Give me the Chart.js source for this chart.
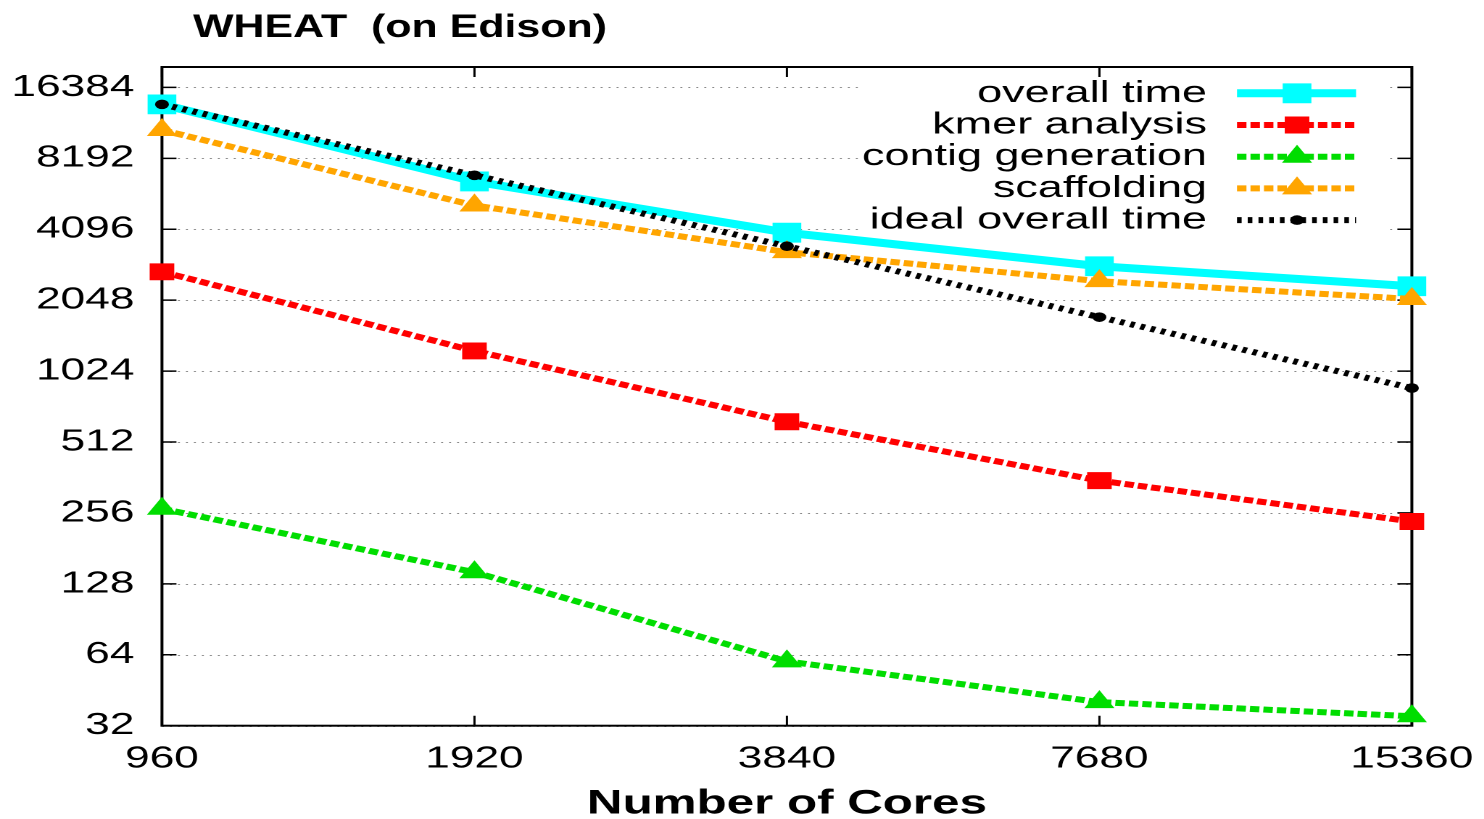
<!DOCTYPE html>
<html>
<head>
<meta charset="utf-8">
<script src="https://cdn.jsdelivr.net/npm/chart.js@4.4.1/dist/chart.umd.min.js"></script>
<style>
  html, body { margin: 0; padding: 0; background: #ffffff; overflow: hidden; }
  /* the drawing is laid out narrow and widened, giving the wide lettering of the figure */
  #frame { position: absolute; left: 0; top: 0; width: 1023.45px; height: 819px;
           transform: scaleX(1.45); transform-origin: 0 0; }
</style>
</head>
<body>
<div id="frame"><canvas id="chart"></canvas></div>
<script>
// Number of cores (x axis categories)
const cores = ['960', '1920', '3840', '7680', '15360'];

// Run time per stage, seconds
const overallTime      = [13880, 6535, 3960, 2853, 2346];
const kmerAnalysis     = [2702, 1247, 624, 351, 235.5];
const contigGeneration = [266.7, 143.4, 60, 40.3, 35.1];
const scaffolding      = [10800, 5167, 3275, 2466, 2072];
const idealOverallTime = [13880, 6940, 3470, 1735, 867.5];

// Power-of-two ticks on the time axis
const timeTicks = [32, 64, 128, 256, 512, 1024, 2048, 4096, 8192, 16384];

const FONT = "'Liberation Sans', Arial, Helvetica, sans-serif";
const PLOT_LEFT = 111.7, PLOT_TOP = 67, PLOT_RIGHT_PAD = 49.7, X_AXIS_H = 93.3;

// Grid, frame, inward tick marks and the opaque key
const plotFrame = {
  id: 'plotFrame',
  beforeDatasetsDraw(chart) {
    const { ctx, chartArea: a, scales } = chart;
    const y = scales.y, x = scales.x;
    ctx.save();
    // dotted horizontal grid
    ctx.strokeStyle = '#8a8a8a';
    ctx.lineWidth = 1;
    ctx.setLineDash([1.4, 4.1]);
    timeTicks.forEach(v => {
      const py = Math.round(y.getPixelForValue(v)) + 0.5;
      ctx.beginPath(); ctx.moveTo(a.left, py); ctx.lineTo(a.right, py); ctx.stroke();
    });
    ctx.setLineDash([]);

    // key (opaque box)
    const key = { left: 594.5, right: 955.2, top: 75, bottom: 236,
                  textRight: 832.4, lineFrom: 853.1, lineTo: 935.2, markX: 894.5,
                  row0: 93.3, step: 31.7 };
    ctx.fillStyle = '#ffffff';
    ctx.fillRect(key.left, key.top, key.right - key.left, key.bottom - key.top);
    ctx.font = '31px ' + FONT;
    ctx.textAlign = 'right';
    ctx.textBaseline = 'middle';
    chart.data.datasets.forEach((ds, i) => {
      const ry = key.row0 + i * key.step;
      ctx.fillStyle = '#000000';
      ctx.fillText(ds.label, key.textRight, ry);
      ctx.strokeStyle = ds.borderColor;
      ctx.lineWidth = ds.borderWidth;
      ctx.setLineDash(ds.borderDash || []);
      ctx.lineCap = 'butt';
      ctx.beginPath(); ctx.moveTo(key.lineFrom, ry); ctx.lineTo(key.lineTo, ry); ctx.stroke();
      ctx.setLineDash([]);
      drawMarker(ctx, ds.pointStyle, ds.pointRadius, key.markX, ry, ds.pointBackgroundColor);
    });

    // frame
    ctx.strokeStyle = '#000000';
    ctx.lineWidth = 2;
    ctx.strokeRect(a.left, a.top, a.right - a.left, a.bottom - a.top);
    // inward ticks, mirrored
    ctx.lineWidth = 1.5;
    timeTicks.forEach(v => {
      const py = y.getPixelForValue(v);
      ctx.beginPath();
      ctx.moveTo(a.left, py); ctx.lineTo(a.left + 10, py);
      ctx.moveTo(a.right, py); ctx.lineTo(a.right - 10, py);
      ctx.stroke();
    });
    cores.forEach((c, i) => {
      const px = x.getPixelForValue(i);
      ctx.beginPath();
      ctx.moveTo(px, a.bottom); ctx.lineTo(px, a.bottom - 10);
      ctx.moveTo(px, a.top); ctx.lineTo(px, a.top + 10);
      ctx.stroke();
    });
    ctx.restore();
  },
  afterDraw(chart) {
    // chart title, slightly condensed
    const ctx = chart.ctx;
    ctx.save();
    ctx.fillStyle = '#000000';
    ctx.font = 'bold 32px ' + FONT;
    ctx.textAlign = 'left';
    ctx.textBaseline = 'alphabetic';
    ctx.translate(133.1, 37);
    ctx.scale(0.925, 1);
    ctx.fillText('WHEAT  (on Edison)', 0, 0);
    ctx.restore();
  }
};

function drawMarker(ctx, style, r, cx, cy, color) {
  ctx.fillStyle = color;
  ctx.beginPath();
  if (style === 'rect') {
    const s = Math.SQRT1_2 * r;
    ctx.rect(cx - s, cy - s, 2 * s, 2 * s);
  } else if (style === 'triangle') {
    for (let k = 0; k < 3; k++) {
      const ang = k * 2 * Math.PI / 3;
      const px = cx + Math.sin(ang) * r, py = cy - Math.cos(ang) * r;
      if (k === 0) ctx.moveTo(px, py); else ctx.lineTo(px, py);
    }
    ctx.closePath();
  } else {
    ctx.arc(cx, cy, r, 0, Math.PI * 2);
  }
  ctx.fill();
}

// later series are drawn over earlier ones
function series(label, data, color, width, dash, style, radius, order) {
  return {
    label, data, order,
    borderColor: color, backgroundColor: color,
    borderWidth: width, borderDash: dash, borderCapStyle: 'butt',
    pointStyle: style, pointRadius: radius, pointHoverRadius: radius,
    pointBackgroundColor: color, pointBorderColor: color, pointBorderWidth: 0,
    tension: 0, fill: false, clip: false
  };
}

new Chart(document.getElementById('chart'), {
  type: 'line',
  data: {
    labels: cores,
    datasets: [
      series('overall time', overallTime, '#00ffff', 8, [], 'rect', 14, 5),
      series('kmer analysis', kmerAnalysis, '#ff0000', 6, [6.5, 2.8], 'rect', 12, 4),
      series('contig generation', contigGeneration, '#00dd00', 6, [6.5, 2.8], 'triangle', 12, 3),
      series('scaffolding', scaffolding, '#ffa500', 6, [6.5, 2.8], 'triangle', 12, 2),
      series('ideal overall time', idealOverallTime, '#000000', 6, [3.2, 4.2], 'circle', 4.8, 1)
    ]
  },
  options: {
    responsive: true,
    maintainAspectRatio: false,
    animation: false,
    devicePixelRatio: 2,
    events: [],
    layout: { padding: { top: PLOT_TOP, right: PLOT_RIGHT_PAD, left: 0, bottom: 0 } },
    plugins: { legend: { display: false }, title: { display: false }, tooltip: { enabled: false } },
    scales: {
      x: {
        type: 'category',
        offset: false,
        grid: { display: false, drawTicks: false },
        border: { display: false },
        ticks: { color: '#000', font: { family: FONT, size: 30.5 }, padding: 15, maxRotation: 0, autoSkip: false },
        title: { display: true, text: 'Number of Cores', color: '#000',
                 font: { family: FONT, size: 34, weight: 'bold', lineHeight: 1 }, padding: { top: 0, bottom: -2 } },
        afterFit(s) { s.height = X_AXIS_H; s.paddingLeft = 0; s.paddingRight = 0; }
      },
      y: {
        type: 'logarithmic',
        min: 32, max: 20000,
        grid: { display: false, drawTicks: false },
        border: { display: false },
        afterBuildTicks(s) { s.ticks = timeTicks.map(v => ({ value: v })); },
        ticks: { color: '#000', font: { family: FONT, size: 30.5 }, padding: 19, autoSkip: false,
                 callback: v => String(v) },
        afterFit(s) { s.width = PLOT_LEFT; s.paddingTop = 0; s.paddingBottom = 0; }
      }
    }
  },
  plugins: [plotFrame]
});
</script>
</body>
</html>
